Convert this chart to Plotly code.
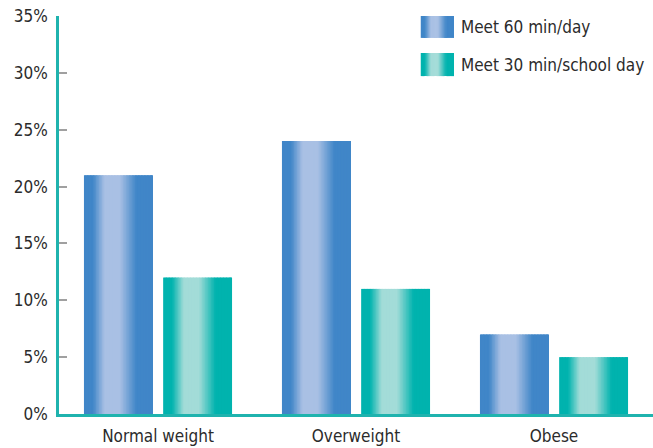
import plotly.graph_objects as go

# Share of students meeting physical-activity guidelines, by weight status
categories = ["Normal weight", "Overweight", "Obese"]
series_names = ["Meet 60 min/day", "Meet 30 min/school day"]
meet_60_min_day = [21, 24, 7]
meet_30_min_school_day = [12, 11, 5]
y_tick_values = [0, 5, 10, 15, 20, 25, 30, 35]
y_tick_labels = ["0%", "5%", "10%", "15%", "20%", "25%", "30%", "35%"]

FONT = "Liberation Sans Narrow, Arial Narrow, DejaVu Sans Condensed, sans-serif"
TEXT = "#2b2b2b"
AXIS_TEAL = "#1fb3ae"

# cylinder-style shading: (position across bar, 0=dark edge colour, 1=highlight)
PROFILE = [(0.0, 0.0), (0.13, 0.0), (0.30, 1.0), (0.52, 1.0), (0.76, 0.0), (1.0, 0.0)]
PALETTES = {
    "blue": ((0x40, 0x86, 0xc8), (0xa9, 0xc0, 0xe4)),
    "teal": ((0x00, 0xb3, 0xae), (0xa3, 0xdc, 0xd8)),
}


def shade(t, dark, light):
    k = 0
    for (x0, v0), (x1, v1) in zip(PROFILE[:-1], PROFILE[1:]):
        if x0 <= t <= x1:
            f = 0 if x1 == x0 else (t - x0) / (x1 - x0)
            k = v0 + (v1 - v0) * f
            break
    r, g, b = (round(d + (l - d) * k) for d, l in zip(dark, light))
    return f"rgb({r},{g},{b})"


BAR_W = 0.348
N_SLICES = 46
xs = list(range(len(categories)))

fig = go.Figure()
for values, offset, pal in [
    (meet_60_min_day, -0.374, "blue"),
    (meet_30_min_school_day, 0.026, "teal"),
]:
    dark, light = PALETTES[pal]
    step = BAR_W / N_SLICES
    for i in range(N_SLICES):
        start = offset + i * step
        width = min(step * 1.6, offset + BAR_W - start)
        t = (i + 0.5) / N_SLICES
        fig.add_trace(go.Bar(
            x=xs, y=values, offset=start, width=width,
            marker=dict(color=shade(t, dark, light), line=dict(width=0)),
            showlegend=False, hoverinfo="skip",
        ))

# legend: shaded swatches + labels placed in paper space
legend_rows = [(series_names[0], "blue", 1.0, 0.945, 0.972),
               (series_names[1], "teal", 0.907, 0.849, 0.878)]
sx0, sx1 = 0.609, 0.665
for name, pal, y_top, y_bot, y_mid in legend_rows:
    dark, light = PALETTES[pal]
    n = 30
    for i in range(n):
        a = sx0 + (sx1 - sx0) * i / n
        b = min(sx1, a + (sx1 - sx0) / n * 1.6)
        fig.add_shape(type="rect", xref="paper", yref="paper",
                      x0=a, x1=b, y0=y_bot, y1=y_top,
                      fillcolor=shade((i + 0.5) / n, dark, light),
                      line=dict(width=0), layer="above")
    fig.add_annotation(xref="paper", yref="paper", x=0.674, y=y_mid,
                       text=name, showarrow=False, xanchor="left", yanchor="middle",
                       font=dict(family=FONT, size=17, color=TEXT))

fig.update_layout(
    width=653, height=448,
    margin=dict(l=59, r=0, t=16, b=34),
    paper_bgcolor="white", plot_bgcolor="white",
    barmode="overlay",
    font=dict(family=FONT, size=17, color=TEXT),
    showlegend=False,
)
fig.update_xaxes(
    range=[-0.5, 2.5], tickmode="array", tickvals=xs, ticktext=categories,
    showgrid=False, zeroline=False, ticks="",
    showline=True, linecolor=AXIS_TEAL, linewidth=2.5,
    ticklabelstandoff=5,
    tickfont=dict(family=FONT, size=17, color=TEXT),
)
fig.update_yaxes(
    range=[0, 35], tickmode="array", tickvals=y_tick_values, ticktext=y_tick_labels,
    showgrid=False, zeroline=False,
    ticks="inside", ticklen=8, tickcolor="#a0a0a0", tickwidth=1.5,
    showline=True, linecolor=AXIS_TEAL, linewidth=2.5,
    ticklabelstandoff=5,
    tickfont=dict(family=FONT, size=17, color=TEXT),
)

fig.write_html("out.html")
